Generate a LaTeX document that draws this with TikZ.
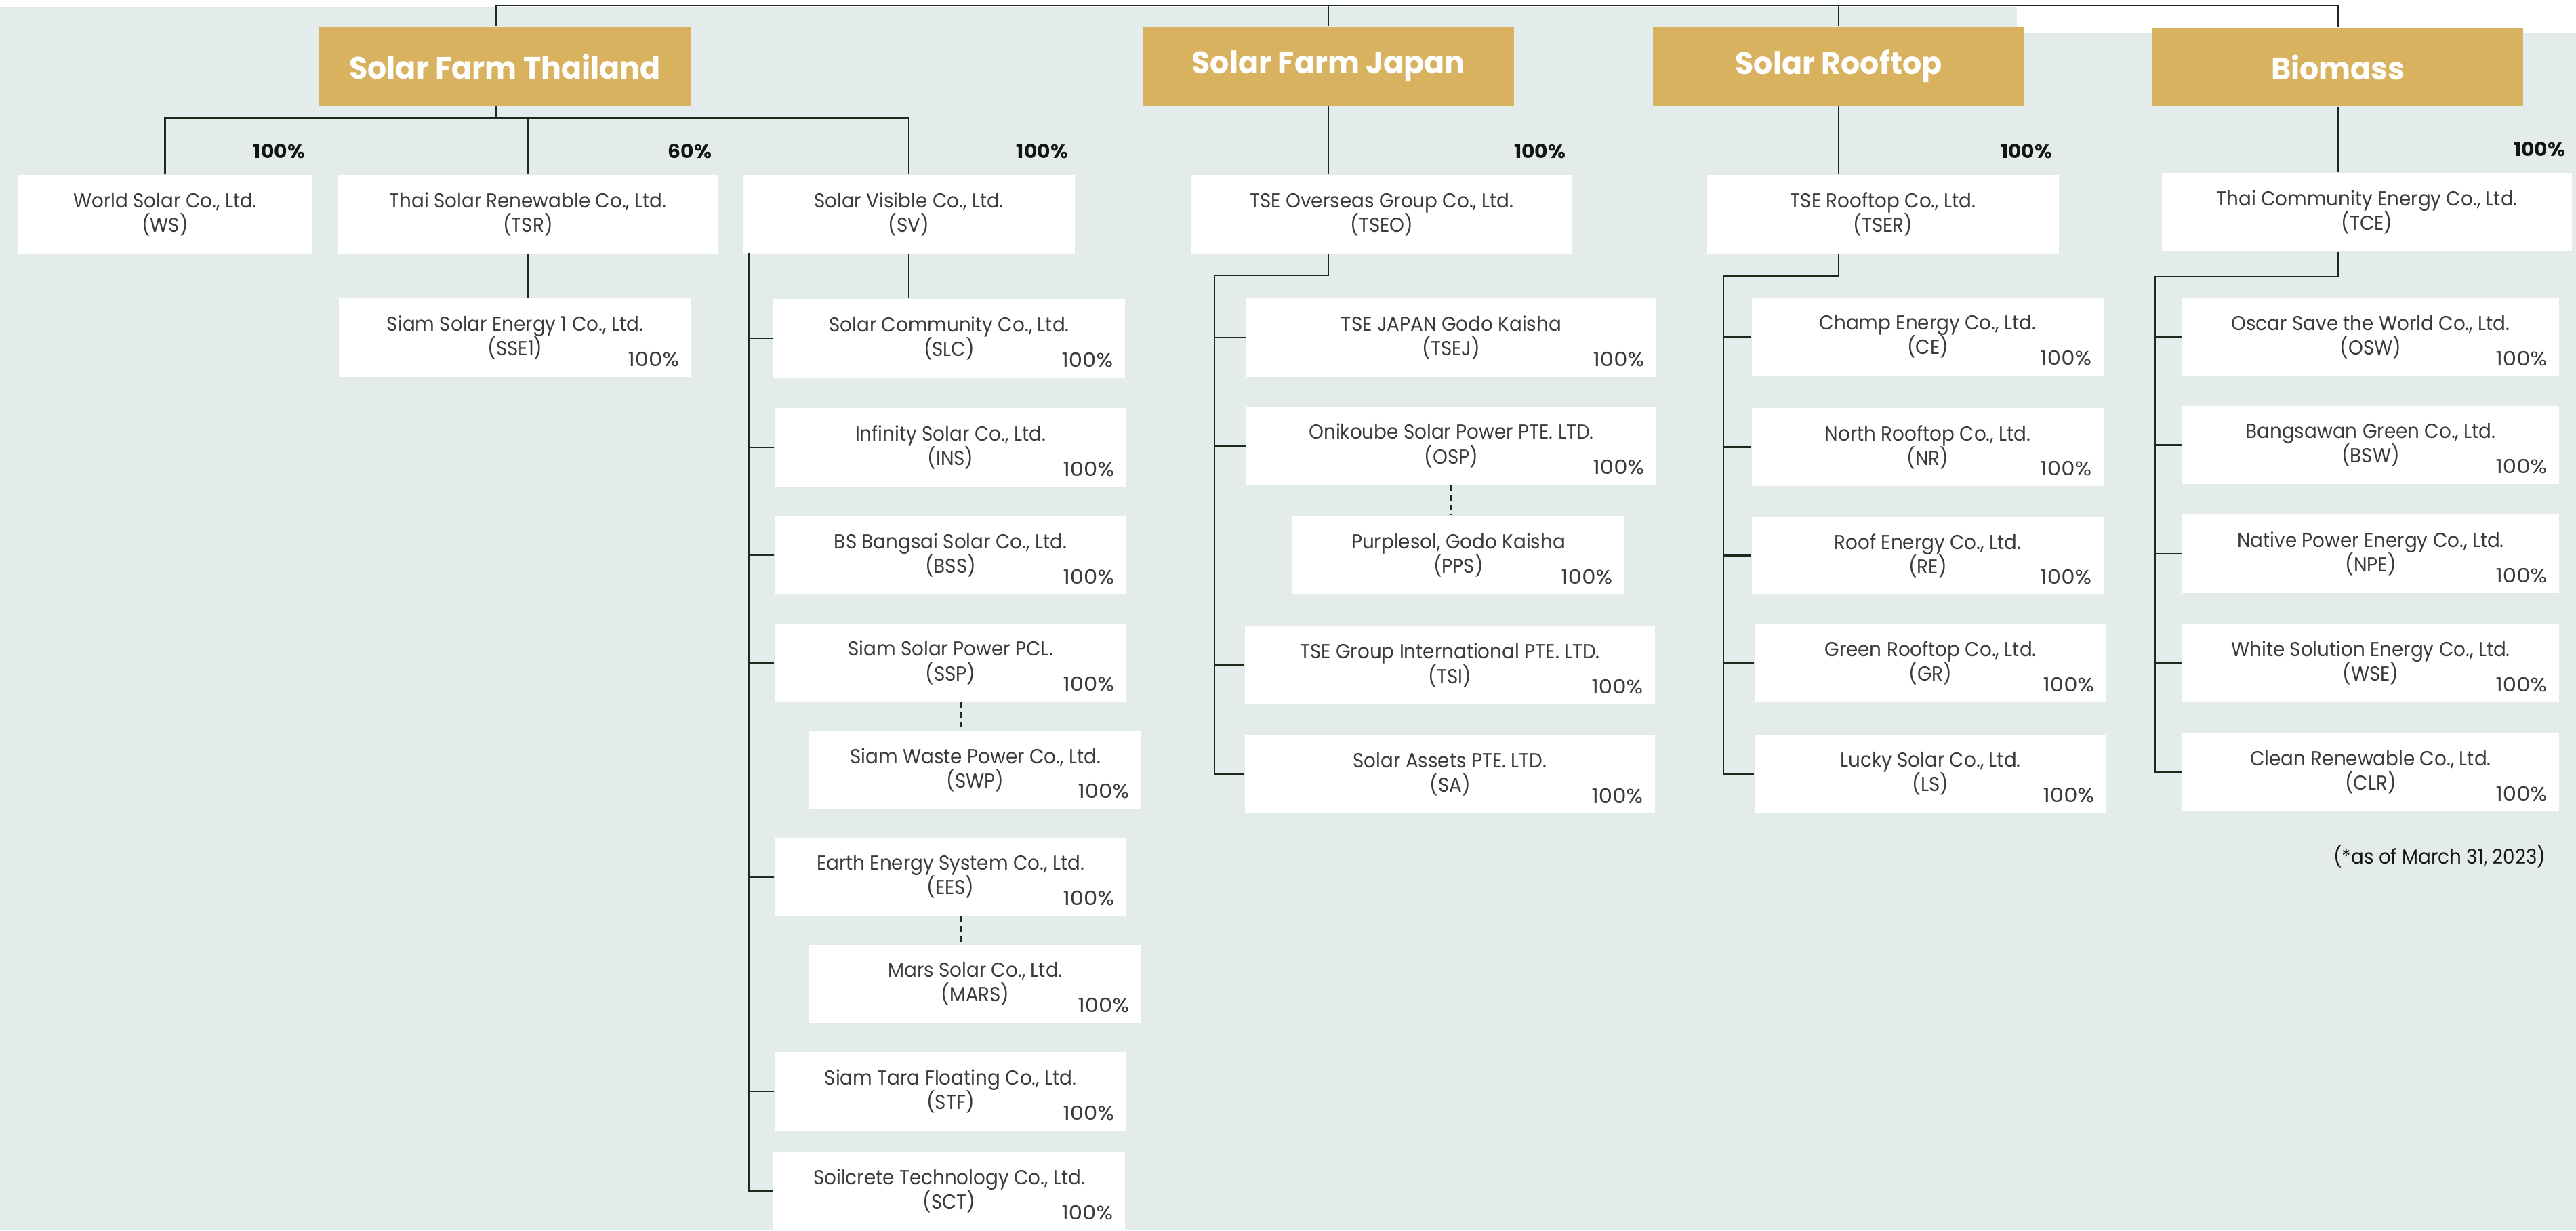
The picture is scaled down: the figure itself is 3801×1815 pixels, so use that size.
\documentclass[tikz,border=0pt]{standalone}
\usepackage{fontspec}
\setmainfont{Poppins}[FakeStretch=0.93]
\newfontfamily\titlefont{Poppins}[FakeStretch=0.97]
\newfontfamily\pctfont{Poppins}[FakeStretch=1.12]
\newfontfamily\tpctfont{Poppins}[FakeStretch=1.06]
\usetikzlibrary{calc}
\definecolor{bgc}{HTML}{E3ECEA}
\definecolor{gold}{HTML}{D8B25E}
\definecolor{txt}{HTML}{3A3A3A}
\definecolor{lnc}{HTML}{1B2A1B}
\newcommand\cbox[6]{%
  \pgfmathsetmacro\bw{(#4-#2)*0.01}%
  \pgfmathsetmacro\bh{(#5-#3)*0.01}%
  \node[cbx,minimum width=\bw cm,minimum height=\bh cm] (#1) at ({(#2+#4)/2},{(#3+#5)/2}) {#6};}
\newcommand\tbox[6]{%
  \pgfmathsetmacro\bw{(#4-#2)*0.01}%
  \pgfmathsetmacro\bh{(#5-#3)*0.01}%
  \node[titlebox,minimum width=\bw cm,minimum height=\bh cm] (#1) at ({(#2+#4)/2},{(#3+#5)/2}) {#6};}
\newcommand\ipct[1]{\node[inpct] at ($(#1.south east)+(-18,-27)$) {100\%};}
\newcommand\tpct[2]{\node[toppct] at ($(#1.north east)+(-10,-34)$) {#2};}
\begin{document}
\begin{tikzpicture}[x=0.01cm,y=-0.01cm,
  cbx/.style={fill=white,inner sep=0pt,align=center,text=txt,font=\fontsize{8.5}{10.3}\selectfont},
  titlebox/.style={fill=gold,inner sep=0pt,text=white,font=\titlefont\bfseries\fontsize{13}{15}\selectfont},
  toppct/.style={anchor=east,inner sep=0pt,text=black!92,font=\tpctfont\bfseries\fontsize{8}{9}\selectfont},
  inpct/.style={anchor=east,inner sep=0pt,text=txt,font=\pctfont\fontsize{8.2}{9}\selectfont},
  note/.style={anchor=east,inner sep=0pt,text=black!92,font=\fontsize{8.5}{10}\selectfont},
  ln/.style={draw=lnc,line width=0.6pt},
  dsh/.style={draw=lnc,line width=0.6pt,dash pattern=on 2.4pt off 1.7pt}]
\useasboundingbox (0,0) rectangle (3801,1815);
\fill[white] (0,0) rectangle (3801,1815);
\fill[bgc] (0,11) rectangle (3801,1815);
\fill[white] (2976,0) rectangle (3801,48);

% titles
\tbox{T1}{471}{40}{1019}{156}{Solar Farm Thailand}
\tbox{T2}{1686}{40}{2234}{156}{Solar Farm Japan}
\tbox{T3}{2439}{40}{2987}{156}{Solar Rooftop}
\tbox{T4}{3176}{41}{3723}{157}{Biomass}

% Thailand
\cbox{WS}{27}{258}{460}{374}{World Solar Co., Ltd.\\(WS)}
\cbox{TSR}{498}{258}{1060}{374}{Thai Solar Renewable Co., Ltd.\\(TSR)}
\cbox{SV}{1096}{258}{1586}{374}{Solar Visible Co., Ltd.\\(SV)}
\cbox{SSE1}{500}{440}{1020}{556}{Siam Solar Energy 1 Co., Ltd.\\(SSE1)}
\cbox{SLC}{1141}{441}{1660}{557}{Solar Community Co., Ltd.\\(SLC)}
\cbox{INS}{1143}{602}{1662}{718}{Infinity Solar Co., Ltd.\\(INS)}
\cbox{BSS}{1143}{761}{1662}{877}{BS Bangsai Solar Co., Ltd.\\(BSS)}
\cbox{SSP}{1143}{920}{1662}{1035}{Siam Solar Power PCL.\\(SSP)}
\cbox{SWP}{1194}{1078}{1684}{1193}{Siam Waste Power Co., Ltd.\\(SWP)}
\cbox{EES}{1143}{1236}{1662}{1351}{Earth Energy System Co., Ltd.\\(EES)}
\cbox{MARS}{1194}{1394}{1684}{1509}{Mars Solar Co., Ltd.\\(MARS)}
\cbox{STF}{1143}{1552}{1662}{1668}{Siam Tara Floating Co., Ltd.\\(STF)}
\cbox{SCT}{1141}{1699}{1660}{1815}{Soilcrete Technology Co., Ltd.\\(SCT)}

% Japan
\cbox{TSEO}{1758}{258}{2320}{374}{TSE Overseas Group Co., Ltd.\\(TSEO)}
\cbox{TSEJ}{1839}{440}{2444}{556}{TSE JAPAN Godo Kaisha\\(TSEJ)}
\cbox{OSP}{1839}{600}{2444}{715}{Onikoube Solar Power PTE. LTD.\\(OSP)}
\cbox{PPS}{1907}{761}{2397}{877}{Purplesol, Godo Kaisha\\(PPS)}
\cbox{TSI}{1837}{924}{2442}{1039}{TSE Group International PTE. LTD.\\(TSI)}
\cbox{SA}{1837}{1084}{2442}{1200}{Solar Assets PTE. LTD.\\(SA)}

% Rooftop
\cbox{TSER}{2519}{258}{3038}{374}{TSE Rooftop Co., Ltd.\\(TSER)}
\cbox{CE}{2585}{439}{3104}{554}{Champ Energy Co., Ltd.\\(CE)}
\cbox{NR}{2585}{602}{3104}{717}{North Rooftop Co., Ltd.\\(NR)}
\cbox{RE}{2585}{762}{3104}{877}{Roof Energy Co., Ltd.\\(RE)}
\cbox{GR}{2589}{920}{3108}{1036}{Green Rooftop Co., Ltd.\\(GR)}
\cbox{LS}{2589}{1084}{3108}{1199}{Lucky Solar Co., Ltd.\\(LS)}

% Biomass
\cbox{TCE}{3190}{255}{3795}{371}{Thai Community Energy Co., Ltd.\\(TCE)}
\cbox{OSW}{3220}{440}{3776}{555}{Oscar Save the World Co., Ltd.\\(OSW)}
\cbox{BSW}{3220}{599}{3776}{714}{Bangsawan Green Co., Ltd.\\(BSW)}
\cbox{NPE}{3220}{759}{3776}{875}{Native Power Energy Co., Ltd.\\(NPE)}
\cbox{WSE}{3220}{920}{3776}{1036}{White Solution Energy Co., Ltd.\\(WSE)}
\cbox{CLR}{3220}{1081}{3776}{1197}{Clean Renewable Co., Ltd.\\(CLR)}

% percentages
\tpct{WS}{100\%}
\tpct{TSR}{60\%}
\tpct{SV}{100\%}
\tpct{TSEO}{100\%}
\tpct{TSER}{100\%}
\tpct{TCE}{100\%}
\foreach \n in {SSE1,SLC,INS,BSS,SSP,SWP,EES,MARS,STF,SCT,TSEJ,OSP,PPS,TSI,SA,CE,NR,RE,GR,LS,OSW,BSW,NPE,WSE,CLR}{\ipct{\n}}

\node[note] (fn) at (3757,1263) {(*as of March 31, 2023)};

% connectors: top bus
\coordinate (topbus) at (0,8);
\coordinate (t1n) at ($(T1.north)+(-13,0)$);
\coordinate (t1s) at ($(T1.south)+(-13,0)$);
\draw[ln] (t1n) |- (T4.north |- topbus) -- (T4.north);
\draw[ln] (T2.north) -- (T2.north |- topbus);
\draw[ln] (T3.north) -- (T3.north |- topbus);

% Thailand
\coordinate (b1) at (0,174);
\draw[ln] (t1s) -- (t1s |- b1);
\draw[ln] (WS.north) |- (b1 -| SV.north) -- (SV.north);
\draw[ln] (TSR.north) -- (TSR.north |- b1);
\draw[ln] (TSR.south) -- (TSR.south |- SSE1.north);
\draw[ln] (SV.south) -- (SV.south |- SLC.north);
\coordinate (svsp) at ($(SV.south west)+(10,-2)$);
\draw[ln] (svsp) |- (SCT.west);
\foreach \n in {SLC,INS,BSS,SSP,EES,STF}{\draw[ln] (\n.west) -- (\n.west -| svsp);}
\coordinate (dx) at (1418,0);
\draw[dsh] (SSP.south -| dx) -- (SWP.north -| dx);
\draw[dsh] (EES.south -| dx) -- (MARS.north -| dx);

% Japan
\draw[ln] (T2.south) -- (T2.south |- TSEO.north);
\coordinate (jsp) at (1792,406);
\draw[ln] (TSEO.south -| T2.south) |- (jsp) |- (SA.west);
\foreach \n in {TSEJ,OSP,TSI}{\draw[ln] (\n.west) -- (\n.west -| jsp);}
\draw[dsh] (OSP.south) -- (OSP.south |- PPS.north);

% Rooftop
\draw[ln] (T3.south) -- (T3.south |- TSER.north);
\coordinate (rsp) at (2543,407);
\draw[ln] (TSER.south -| T3.south) |- (rsp) |- (LS.west);
\foreach \n in {CE,NR,RE,GR}{\draw[ln] (\n.west) -- (\n.west -| rsp);}

% Biomass
\draw[ln] (T4.south) -- (T4.south |- TCE.north);
\coordinate (bsp) at (3180,408);
\draw[ln] (TCE.south -| T4.south) |- (bsp) |- (CLR.west);
\foreach \n in {OSW,BSW,NPE,WSE}{\draw[ln] (\n.west) -- (\n.west -| bsp);}
\end{tikzpicture}
\end{document}
